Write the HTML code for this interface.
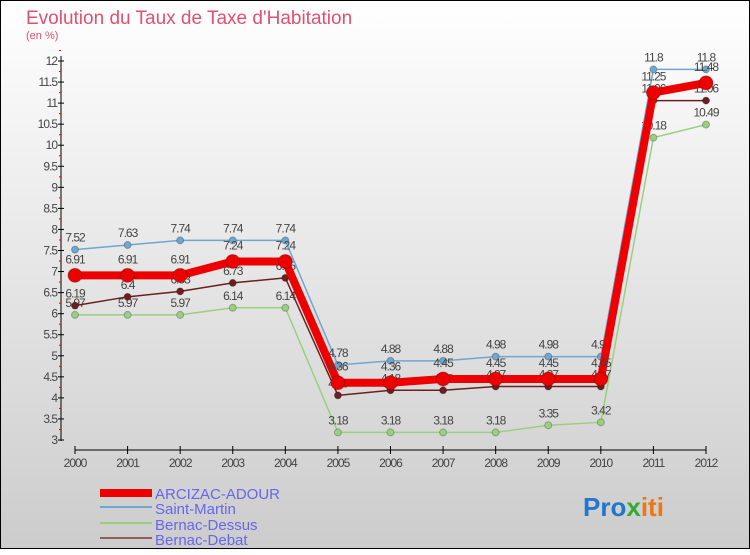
<!DOCTYPE html>
<html><head><meta charset="utf-8"><style>
body{margin:0;width:750px;height:550px;overflow:hidden;font-family:"Liberation Sans","DejaVu Sans",sans-serif}
svg text{font-family:"Liberation Sans","DejaVu Sans",sans-serif}
</style></head><body>
<svg id="c" width="750" height="550" xmlns="http://www.w3.org/2000/svg">
<defs><linearGradient id="bg" x1="0" y1="0" x2="0" y2="1"><stop offset="0" stop-color="#ffffff"/><stop offset="1" stop-color="#cccccc"/></linearGradient></defs>
<rect x="0.5" y="0.5" width="749" height="548" fill="url(#bg)" stroke="#000"/>
<text x="26" y="24" font-size="19" fill="#e05070">Evolution du Taux de Taxe d'Habitation</text>
<text x="26" y="39" font-size="11" fill="#e05070">(en %)</text>
<g id="axes"></g><g id="series"></g>
<g>
<rect x="100" y="489" width="52" height="8" fill="#ee0000"/>
<text x="155" y="499" font-size="15" fill="#6666ee">ARCIZAC-ADOUR</text>
<line x1="100" y1="507" x2="152" y2="507" stroke="#6fa7d0" stroke-width="2"/>
<text x="155" y="514" font-size="15" fill="#6666ee">Saint-Martin</text>
<line x1="100" y1="523" x2="152" y2="523" stroke="#99d080" stroke-width="2"/>
<text x="155" y="530" font-size="15" fill="#6666ee">Bernac-Dessus</text>
<line x1="100" y1="538" x2="152" y2="538" stroke="#906060" stroke-width="2"/>
<text x="155" y="545" font-size="15" fill="#6666ee">Bernac-Debat</text>
</g>
<text x="583" y="516" font-size="26" font-weight="bold"><tspan fill="#2277cc">Pro</tspan><tspan fill="#33aa33">x</tspan><tspan fill="#ee7711">iti</tspan></text>
</svg>
<script>
const years=[2000,2001,2002,2003,2004,2005,2006,2007,2008,2009,2010,2011,2012];
const yTicks=[3,3.5,4,4.5,5,5.5,6,6.5,7,7.5,8,8.5,9,9.5,10,10.5,11,11.5,12];
const arcizac=[6.91,6.91,6.91,7.24,7.24,4.36,4.36,4.45,4.45,4.45,4.45,11.25,11.48];
const saintMartin=[7.52,7.63,7.74,7.74,7.74,4.78,4.88,4.88,4.98,4.98,4.98,11.8,11.8];
const bernacDessus=[5.97,5.97,5.97,6.14,6.14,3.18,3.18,3.18,3.18,3.35,3.42,10.18,10.49];
const bernacDebat=[6.19,6.4,6.53,6.73,6.85,4.06,4.18,4.18,4.27,4.27,4.27,11.06,11.06];
const NS="http://www.w3.org/2000/svg";
const X=i=>75+i*(706-75)/(years.length-1);
const Y=v=>440-(v-3)*(440-61)/9;
function mk(t,a,p){const e=document.createElementNS(NS,t);for(const k in a)e.setAttribute(k,a[k]);p.appendChild(e);return e;}
const ax=document.getElementById('axes');
let e=mk('line',{x1:61,y1:56,x2:61,y2:441,stroke:'#000'},ax);


e=mk('line',{x1:75,y1:450,x2:706,y2:450,stroke:'#000'},ax);


yTicks.forEach((v,i)=>{
 mk('line',{x1:58,y1:Y(v),x2:64,y2:Y(v),stroke:'#000'},ax);
 mk('line',{x1:59,y1:Y(v+0.25),x2:61,y2:Y(v+0.25),stroke:'#e00'},ax);
 const t=mk('text',{x:57,y:Y(v)+4,'font-size':12,fill:'#444','text-anchor':'end','letter-spacing':'-1'},ax);
 t.textContent=String(v);
 
 
});
years.forEach((y,i)=>{
 mk('line',{x1:X(i),y1:446,x2:X(i),y2:454,stroke:'#000'},ax);
 const t=mk('text',{x:X(i),y:467,'font-size':12,fill:'#444','text-anchor':'middle','letter-spacing':'-1'},ax);
 t.textContent=String(y);
 
 
});
const sg=document.getElementById('series');
function series(vals,col,w,r,name,labelDy){
 const g=mk('g',{},sg);
 
 
 const pl=mk('polyline',{points:vals.map((v,i)=>X(i)+','+Y(v)).join(' '),fill:'none',stroke:col,'stroke-width':w,'stroke-linejoin':'round'},g);
 
 
 vals.forEach((v,i)=>{
  const c=mk('circle',{cx:X(i),cy:Y(v),r:r,fill:col,stroke:'rgba(0,0,0,0.25)'},g);
  
  
  const t=mk('text',{x:X(i),y:Y(v)-labelDy,'font-size':12,fill:'#444','text-anchor':'middle','letter-spacing':'-1'},g);
  t.textContent=String(v);
  
  
 });
}
series(bernacDessus,'#99d080',1.5,3.5,'bernac-dessus',8);
series(bernacDebat,'#6b1f1f',1.5,3.5,'bernac-debat',8);
series(saintMartin,'#6fa7d0',1.5,3.5,'saint-martin',8);
series(arcizac,'#ee0000',8,7,'arcizac-adour',12);
</script>
</body></html>
